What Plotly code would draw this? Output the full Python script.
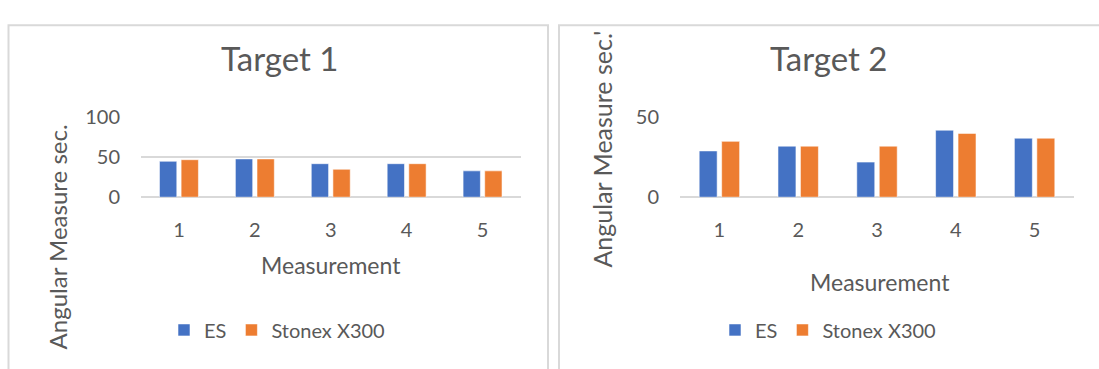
import plotly.graph_objects as go

W, H = 1099, 369

categories = ["1", "2", "3", "4", "5"]
t1_es = [45, 48, 42, 42, 33]
t1_stonex = [47, 48, 35, 42, 33]
t2_es = [29, 32, 22, 42, 37]
t2_stonex = [35, 32, 32, 40, 37]

BLUE = "#4472C4"
ORANGE = "#ED7D31"
TXT = "#595959"
GRID = "#D9D9D9"
FONT = "Lato"

def px(x):
    return x / W

def py(y):
    return 1 - y / H

fig = go.Figure()
edge = dict(color="rgba(255,255,255,0.55)", width=1)
fig.add_trace(go.Bar(x=categories, y=t1_es, name="ES", marker=dict(color=BLUE, line=edge),
                     xaxis="x", yaxis="y", legend="legend"))
fig.add_trace(go.Bar(x=categories, y=t1_stonex, name="Stonex X300", marker=dict(color=ORANGE, line=edge),
                     xaxis="x", yaxis="y", legend="legend"))
fig.add_trace(go.Bar(x=categories, y=t2_es, name="ES", marker=dict(color=BLUE, line=edge),
                     xaxis="x2", yaxis="y2", legend="legend2"))
fig.add_trace(go.Bar(x=categories, y=t2_stonex, name="Stonex X300", marker=dict(color=ORANGE, line=edge),
                     xaxis="x2", yaxis="y2", legend="legend2"))

ydom = [py(197), py(111.7)]
xcommon = dict(showgrid=False, zeroline=False, showline=False, ticks="",
               tickfont=dict(family=FONT, size=20, color=TXT), ticklabelstandoff=19,
               fixedrange=True)
ycommon = dict(showgrid=True, gridcolor=GRID, gridwidth=1.5, zeroline=True, zerolinecolor=GRID,
               zerolinewidth=1.5, showline=False, ticks="", dtick=50,
               tickfont=dict(family=FONT, size=20, color=TXT), ticklabelstandoff=20,
               fixedrange=True)

panel_line = dict(color=GRID, width=2)
legend_common = dict(orientation="h", yanchor="middle", xanchor="left",
                     font=dict(family=FONT, size=20, color=TXT), bgcolor="rgba(0,0,0,0)",
                     traceorder="normal", itemclick=False, itemdoubleclick=False)

fig.update_layout(
    width=W, height=H,
    margin=dict(l=0, r=0, t=0, b=0),
    paper_bgcolor="white", plot_bgcolor="white",
    barmode="group", bargap=0.43, bargroupgap=0.2,
    font=dict(family=FONT, color=TXT),
    xaxis=dict(domain=[px(141), px(520.5)], anchor="y", **xcommon),
    yaxis=dict(domain=ydom, anchor="x", range=[0, 100], **ycommon),
    xaxis2=dict(domain=[px(680), px(1074)], anchor="y2", **xcommon),
    yaxis2=dict(domain=ydom, anchor="x2", range=[0, 50], **ycommon),
    legend=dict(x=px(164), y=py(339), **legend_common),
    legend2=dict(x=px(715), y=py(339), **legend_common),
    shapes=[
        dict(type="path", xref="paper", yref="paper",
             path=f"M {px(8.5)},{py(400)} L {px(8.5)},{py(13)} L {px(548)},{py(13)} L {px(548)},{py(400)}",
             line=panel_line, layer="below"),
        dict(type="path", xref="paper", yref="paper",
             path=f"M {px(559)},{py(400)} L {px(559)},{py(13)} L {px(1120)},{py(13)}",
             line=panel_line, layer="below"),
    ],
    annotations=[
        dict(text="Target 1", x=px(279), y=py(48), xref="paper", yref="paper", showarrow=False,
             xanchor="center", yanchor="middle", font=dict(family=FONT, size=33, color=TXT)),
        dict(text="Target 2", x=px(828), y=py(48), xref="paper", yref="paper", showarrow=False,
             xanchor="center", yanchor="middle", font=dict(family=FONT, size=33, color=TXT)),
        dict(text="Measurement", x=px(331), y=py(270), xref="paper", yref="paper", showarrow=False,
             xanchor="center", yanchor="middle", font=dict(family=FONT, size=23, color=TXT)),
        dict(text="Measurement", x=px(880), y=py(288), xref="paper", yref="paper", showarrow=False,
             xanchor="center", yanchor="middle", font=dict(family=FONT, size=23, color=TXT)),
        dict(text="Angular Measure sec.", x=px(57), y=py(240), xref="paper", yref="paper", showarrow=False,
             textangle=-90, xanchor="center", yanchor="middle", font=dict(family=FONT, size=24, color=TXT)),
        dict(text="Angular Measure sec.'", x=px(602), y=py(146), xref="paper", yref="paper", showarrow=False,
             textangle=-90, xanchor="center", yanchor="middle", font=dict(family=FONT, size=25, color=TXT)),
    ],
)

fig.write_html("out.html")
